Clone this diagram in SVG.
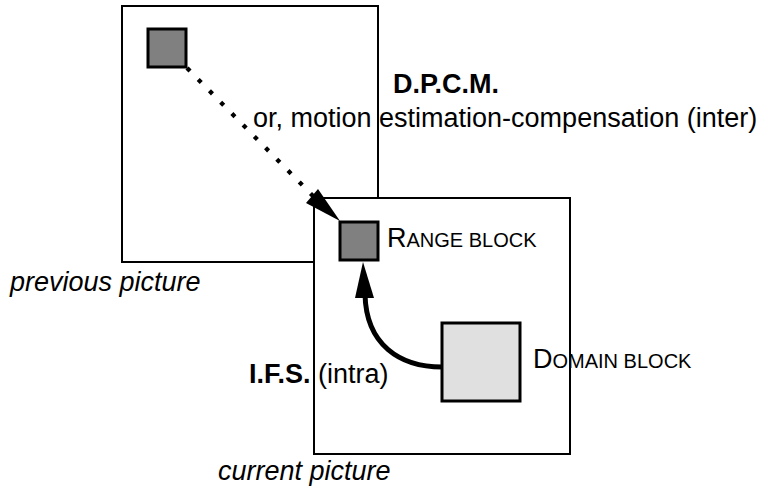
<svg xmlns="http://www.w3.org/2000/svg" width="763" height="492" viewBox="0 0 763 492">
<style>
.frame{fill:#fff;stroke:#000;stroke-width:2}
.blk{fill:#808080;stroke:#000;stroke-width:3}
.dom{fill:#e0e0e0;stroke:#000;stroke-width:3}
text{font-family:"Liberation Sans",Arial,sans-serif;font-size:27px;fill:#000}
.b{font-weight:bold}
.i{font-style:italic}
.sc{font-size:20px}
</style>
<rect width="763" height="492" fill="#fff"/>
<g id="previous">
<rect class="frame" x="122" y="6" width="256" height="256"/>
<rect class="blk" x="148" y="29" width="38" height="38"/>
<text class="i" x="10" y="291">previous picture</text>
</g>
<g id="current">
<rect class="frame" x="314" y="198" width="256" height="256"/>
<text class="i" x="218" y="480">current picture</text>
</g>
<g id="range">
<rect class="blk" x="340" y="222" width="38" height="38"/>
<text x="387" y="247">R<tspan class="sc">ANGE BLOCK</tspan></text>
</g>
<g id="domain">
<rect class="dom" x="442" y="323" width="78" height="78"/>
<text x="533" y="368">D<tspan class="sc">OMAIN BLOCK</tspan></text>
</g>
<g id="connectors">
<line x1="187" y1="68" x2="314" y2="197" stroke="#000" stroke-width="4.3" stroke-dasharray="4.3 11.7"/>
<polygon points="340,221 306,203 318,189" fill="#000"/>
<path d="M442,367 C400,367 366,345 365,294" fill="none" stroke="#000" stroke-width="5"/>
<polygon points="363,262 355,298 374,298" fill="#000"/>
</g>
<g id="labels">
<text class="b" x="393" y="93">D.P.C.M.</text>
<text x="253" y="127">or, motion estimation-compensation (inter)</text>
<text x="249" y="383"><tspan class="b">I.F.S.</tspan> (intra)</text>
</g>
</svg>
